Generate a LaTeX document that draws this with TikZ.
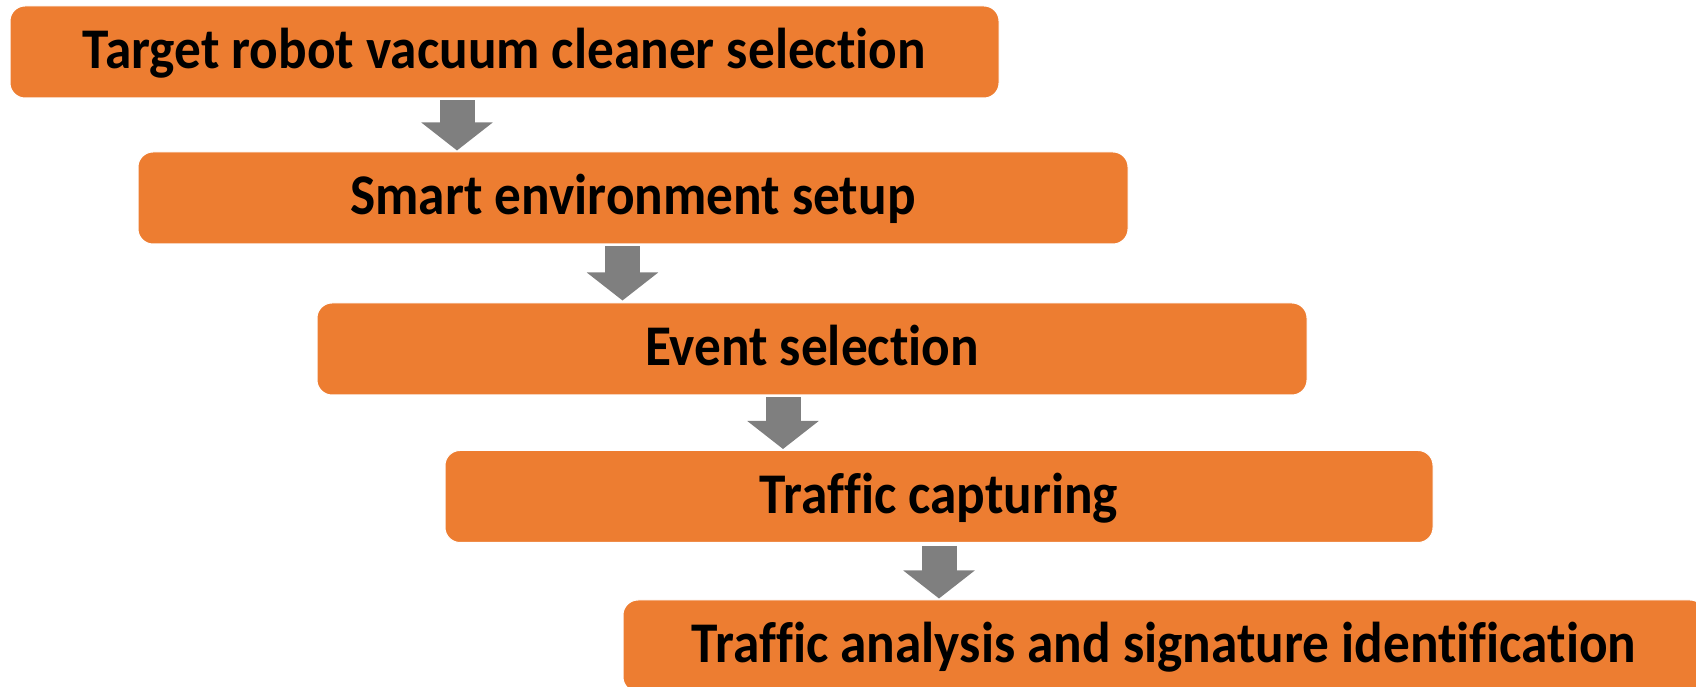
\documentclass[tikz,border=0pt]{standalone}
\usepackage{graphicx}
\usepackage{fontspec}
\setmainfont{Carlito}[Ligatures=NoCommon]
\usetikzlibrary{arrows.meta,calc}
\definecolor{boxorange}{HTML}{ED7D31}
\definecolor{arrowgray}{HTML}{7F7F7F}
\newcommand{\steptext}[1]{\scalebox{1}[1.08]{#1}}
\tikzset{
  stepbox/.style={fill=boxorange, draw=white, line width=1pt, rounded corners=15pt,
    minimum height=92pt, inner sep=0pt, text height=34pt, text depth=-2pt,
    font=\fontsize{53.3}{56}\selectfont\bfseries, text=black},
  blockarrow/.style={draw=arrowgray, line width=35pt,
    -{Triangle[width=70pt,length=28pt]}, fill=arrowgray},
}
\begin{document}
\begin{tikzpicture}[x=1pt,y=1pt]
\useasboundingbox (0,0) rectangle (1696,687);
\node[stepbox, minimum width=989pt] (b1) at (504.5,635) {\steptext{Target robot vacuum cleaner selection}};
\node[stepbox, minimum width=990pt] (b2) at (633,489) {\steptext{Smart environment setup}};
\node[stepbox, minimum width=990pt] (b3) at (812,338) {\steptext{Event selection}};
\node[stepbox, minimum width=988pt] (b4) at (939,190.5) {\steptext{Traffic capturing}};
\node[stepbox, minimum width=1082pt] (b5) at (1164,41) {\steptext{Traffic analysis and signature identification}};
\draw[blockarrow] ($(b1.south)+(-47.5,-2)$) -- ($(b2.north)+(-176,1)$);
\draw[blockarrow] ($(b2.south)+(-10.5,-2)$) -- ($(b3.north)+(-189.5,2)$);
\draw[blockarrow] ($(b3.south)+(-29,-2)$) -- ($(b4.north)+(-156,1)$);
\draw[blockarrow] ($(b4.south)+(0,-3)$) -- ($(b5.north)+(-225,1)$);
\end{tikzpicture}
\end{document}
